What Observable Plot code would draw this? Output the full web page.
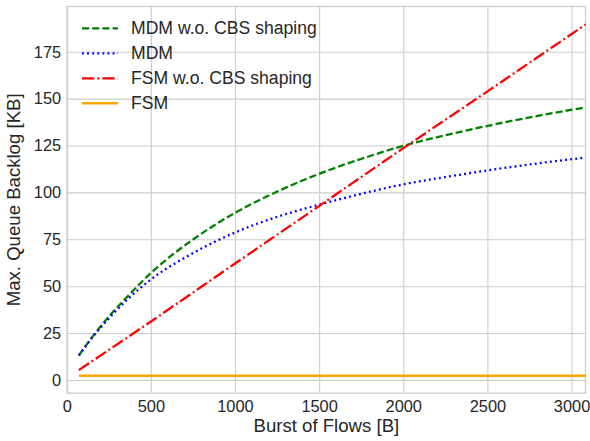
<!DOCTYPE html>
<html>
<head>
<meta charset="utf-8">
<script src="https://cdn.jsdelivr.net/npm/d3@7"></script>
<script src="https://cdn.jsdelivr.net/npm/@observablehq/plot@0.6"></script>
<style>
  html, body { margin: 0; padding: 0; background: #fff; }
  #wrap { position: relative; width: 590px; height: 441px; font-family: "Liberation Sans", Arial, sans-serif; }
  #wrap svg { position: absolute; left: 0; top: 0; }
  g[aria-label="x-axis label"] text, g[aria-label="y-axis label"] text { font-size: 18.6px; }
</style>
</head>
<body>
<div id="wrap"></div>
<script>
// Burst of flows [B] sample positions
const burstMDM = [69, 150, 250, 350, 500, 750, 1000, 1250, 1500, 1750, 2000, 2250, 2500, 2750, 3000, 3080];
// MDM w.o. CBS shaping [KB]
const mdmNoCbs = [13.3, 23.3, 34.3, 44.0, 57.5, 75.3, 89.5, 100.8, 110.3, 118.2, 125.2, 130.8, 135.8, 140.3, 144.4, 145.6];
// MDM [KB]
const mdmVals = [13.3, 23.0, 33.3, 42.5, 54.0, 68.0, 79.0, 87.3, 93.8, 99.6, 104.6, 108.5, 112.0, 115.2, 118.0, 118.8];
// FSM w.o. CBS shaping
const burstFSM = [69, 500, 1000, 1500, 2000, 2500, 3080];
const fsmNoCbs = [5.5, 31.6, 62.5, 93.2, 124.0, 154.3, 189.8];
// FSM
const burstFSMflat = [69, 3080];
const fsmVals = [2.5, 2.5];

const seriesNames = ["MDM w.o. CBS shaping", "MDM", "FSM w.o. CBS shaping", "FSM"];
const seriesColors = ["green", "blue", "red", "orange"];
const seriesDash = ["7.1,3.1", "1.9,3.2", "12.3,3.1,1.9,3.1", null];

const xTicks = [0, 500, 1000, 1500, 2000, 2500, 3000];
const yTicks = [0, 25, 50, 75, 100, 125, 150, 175];

const toRows = (xs, ys) => xs.map((x, i) => ({x, y: ys[i]}));
const lines = [
  toRows(burstMDM, mdmNoCbs),
  toRows(burstMDM, mdmVals),
  toRows(burstFSM, fsmNoCbs),
  toRows(burstFSMflat, fsmVals)
];

const W = 590, H = 441;
const plot = Plot.plot({
  width: W, height: H,
  marginLeft: 66.7, marginRight: 5, marginTop: 6, marginBottom: 48.3,
  style: {fontFamily: '"Liberation Sans", Arial, sans-serif', color: "#262626", background: "#fff"},
  x: {domain: [0, 3080]},
  y: {domain: [-6.8, 199.4]},
  marks: [
    Plot.gridX(xTicks, {stroke: "#cccccc", strokeOpacity: 1, strokeWidth: 1.1}),
    Plot.gridY(yTicks, {stroke: "#cccccc", strokeOpacity: 1, strokeWidth: 1.1}),
    Plot.frame({stroke: "#cccccc", strokeWidth: 1.3}),
    Plot.axisX(xTicks, {tickSize: 0, tickPadding: 7, fontSize: 16.4, tickFormat: d => String(d), label: "Burst of Flows [B]", labelAnchor: "center", labelOffset: 39, labelArrow: "none"}),
    Plot.axisY(yTicks, {tickSize: 0, tickPadding: 6, fontSize: 16.4, tickFormat: d => String(d), label: "Max. Queue Backlog [KB]", labelAnchor: "center", labelOffset: 60, labelArrow: "none"}),
    ...lines.map((d, i) => Plot.line(d, {
      x: "x", y: "y", curve: "monotone-x",
      stroke: seriesColors[i], strokeWidth: i === 3 ? 2.4 : 2.3,
      strokeDasharray: seriesDash[i],
      strokeLinecap: "butt"
    }))
  ]
});
const wrap = document.getElementById("wrap");
wrap.appendChild(plot);

// legend overlay (upper left, inside plot area)
const leg = d3.select(wrap).append("svg")
  .attr("width", W).attr("height", H)
  .style("pointer-events", "none");
seriesNames.forEach((name, i) => {
  const cy = 28.3 + 25 * i;
  leg.append("line")
    .attr("x1", 82).attr("x2", 118).attr("y1", cy).attr("y2", cy)
    .attr("stroke", seriesColors[i]).attr("stroke-width", i === 3 ? 2.4 : 2.3)
    .attr("stroke-dasharray", seriesDash[i]);
  leg.append("text")
    .attr("x", 131).attr("y", cy).attr("dy", "0.35em")
    .attr("fill", "#262626")
    .style("font-family", '"Liberation Sans", Arial, sans-serif')
    .style("font-size", "17.6px")
    .text(name);
});
</script>
</body>
</html>
